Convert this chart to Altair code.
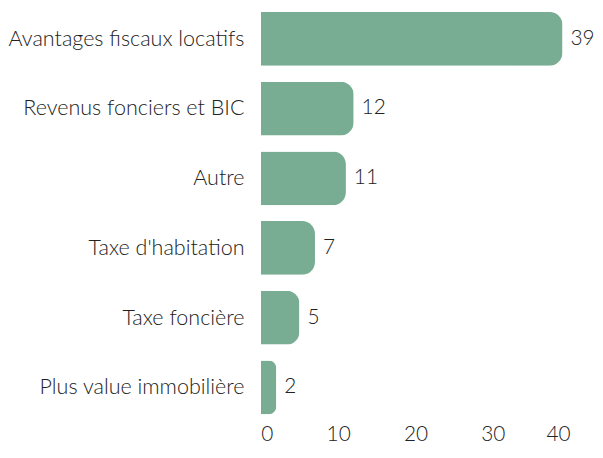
import altair as alt
import pandas as pd

categories = ["Avantages fiscaux locatifs", "Revenus fonciers et BIC", "Autre",
              "Taxe d'habitation", "Taxe foncière", "Plus value immobilière"]
values = [39, 12, 11, 7, 5, 2]
x_ticks = [0, 10, 20, 30, 40]

df = pd.DataFrame({"cat": categories, "val": values})

FONT = "Lato"
W = 300
y_enc = alt.Y("cat:N", sort=categories, title=None,
              scale=alt.Scale(paddingInner=0.229, paddingOuter=0.03),
              axis=alt.Axis(labelFont=FONT, labelFontSize=21.7, labelFontWeight=W,
                            labelColor="#222222",
                            labelPadding=17, ticks=False, domain=False, labelLimit=400))
x_enc = alt.X("val:Q", title=None, scale=alt.Scale(domain=[0, 40], nice=False),
              axis=alt.Axis(values=x_ticks, labelFont=FONT, labelFontSize=21,
                            labelFontWeight=W,
                            labelColor="#222222", grid=False, ticks=False, domain=False,
                            labelPadding=7))

bars = alt.Chart(df).mark_bar(color="#78ad94", cornerRadiusEnd=13).encode(x=x_enc, y=y_enc)
labels = alt.Chart(df).mark_text(align="left", baseline="middle", dx=8, font=FONT,
                                 fontSize=21, fontWeight=W, color="#222222").encode(
    x="val:Q", y=alt.Y("cat:N", sort=categories), text="val:Q")

chart = (bars + labels).properties(width=312, height=410, padding=0).configure_view(stroke=None)
chart.save("out.html", embed_options={"renderer": "svg", "actions": False})
